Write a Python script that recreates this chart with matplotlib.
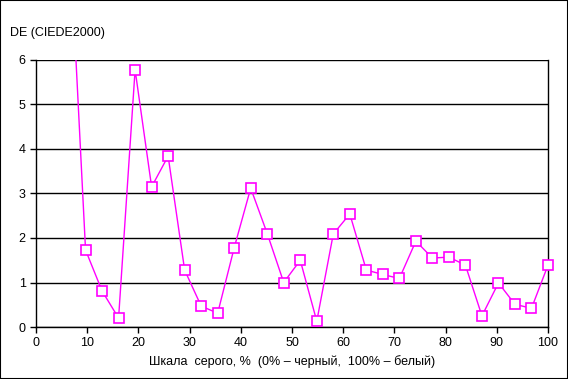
import matplotlib.pyplot as plt
import numpy as np
from matplotlib.patches import Rectangle

plt.rcParams['font.family'] = ['Liberation Sans', 'DejaVu Sans']

# grey scale steps (32 patches, 0..100 %)
gray_pct = np.arange(32) * 100 / 31
delta_e = [15.0, 12.0, 9.1, 1.73, 0.81, 0.20, 5.78, 3.15, 3.84, 1.28, 0.47,
           0.31, 1.78, 3.12, 2.10, 1.00, 1.50, 0.13, 2.09, 2.54, 1.28, 1.18,
           1.09, 1.93, 1.55, 1.57, 1.39, 0.25, 0.99, 0.51, 0.42, 1.39]

xticks = np.arange(0, 101, 10)
yticks = np.arange(0, 7, 1)

fig = plt.figure(figsize=(5.68, 3.79), dpi=100)
ax = fig.add_axes([36/568, 1-327/379, 512/568, 267/379])

ax.plot(gray_pct, delta_e, color='#FF00FF', lw=1, zorder=3)
# markers only for points inside the axis range, not clipped at the edges
shown = np.ma.masked_greater(delta_e, 6)
ax.plot(gray_pct, shown, ls='none', marker='s', ms=7,
        mfc='white', mec='#FF00FF', mew=1.2, clip_on=False, zorder=4)

ax.set_xlim(0, 100)
ax.set_ylim(0, 6)
ax.set_xticks(xticks)
ax.set_yticks(yticks)
ax.yaxis.grid(True, color='black', lw=1)
ax.set_axisbelow(True)
for s in ['left', 'bottom', 'right']:
    ax.spines[s].set_color('black')
    ax.spines[s].set_linewidth(1)
ax.spines['top'].set_visible(False)
ax.tick_params(direction='out', length=4, width=1, labelsize=9, colors='black')

fig.text(292/568, 1-362/379, 'Шкала  серого, %  (0% – черный,  100% – белый)',
         fontsize=9, va='center', ha='center')
fig.text(10/568, 1-33/379, 'DE (CIEDE2000)', fontsize=9, va='center', ha='left')

fig.patches.append(Rectangle((0, 0), 1, 1, transform=fig.transFigure,
                             fill=False, ec='black', lw=1.5))

fig.savefig('out.png', dpi=100)
